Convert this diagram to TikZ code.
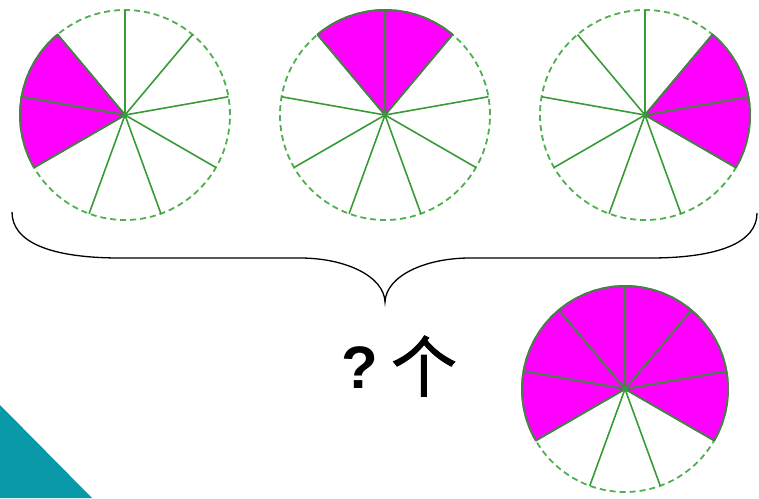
\documentclass[tikz,border=0pt]{standalone}
\usepackage{fontspec}
\newfontfamily\cjk[FakeBold=1.2]{Noto Sans CJK SC}
\newfontfamily\qfont{Liberation Sans}
\definecolor{dashgreen}{RGB}{80,175,80}
\definecolor{linegreen}{RGB}{55,155,55}
\definecolor{edgegreen}{RGB}{75,125,75}
\definecolor{tealtri}{RGB}{8,152,168}
\definecolor{pink}{RGB}{255,0,255}
\tikzset{
  rim/.style={draw=dashgreen, dash pattern=on 6pt off 4pt, line width=1.8pt},
  spoke/.style={draw=linegreen, line width=1.6pt},
  slice/.style={fill=pink, draw=edgegreen, line width=2pt, line join=round},
  bracestyle/.style={draw=black, line width=1.3pt},
}
\begin{document}
\begin{tikzpicture}[x=1pt,y=1pt]
\useasboundingbox (0,0) rectangle (759,498);
\fill[tealtri] (0,93) -- (92,0) -- (0,0) -- cycle;
\foreach \cx/\cy/\r/\lst [count=\i] in {125/383/105/{130,170}, 385/383/105/{50,90}, 645/383/105/{-30,10}, 625/109/103/{-30,10,50,90,130,170}}{
  \begin{scope}[shift={(\cx,\cy)}]
    \draw[rim] (0,0) circle[radius=\r];
    \foreach \a in {90,130,170,210,250,290,330,370,410}
      \draw[spoke] (0,0) -- (\a:\r);
    \foreach \a in \lst
      \filldraw[slice] (0,0) -- (\a:\r) arc[start angle=\a, end angle=\a+40, radius=\r] -- cycle;
    \fill[linegreen] (0,0) circle[radius=2.5];
  \end{scope}
}
\coordinate (bl) at (12,286);
\coordinate (br) at (757,285);
\coordinate (tip) at (385,196);
\draw[bracestyle] (bl) .. controls (12,256) and (50,240) .. (120,240) -- (300,240)
  .. controls (345,240) and (384,222) .. (tip)
  .. controls (386,222) and (425,240) .. (470,240) -- (650,240)
  .. controls (720,240) and (757,256) .. (br);
\node (q) at (360,130) {\fontsize{60}{60}\selectfont\qfont\bfseries ?};
\node (ge) at (424,132) {\fontsize{66}{66}\selectfont\cjk 个};
\end{tikzpicture}
\end{document}
